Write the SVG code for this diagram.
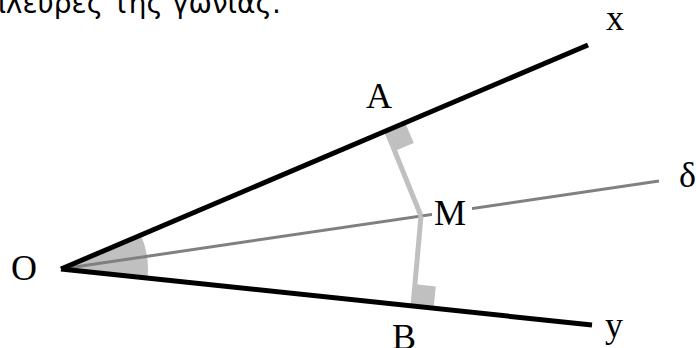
<svg xmlns="http://www.w3.org/2000/svg" width="697" height="348" viewBox="0 0 697 348">
<style>
.lbl{font-family:"Liberation Serif","Times New Roman",serif;font-size:36px;fill:#000}
.cap{font-family:"DejaVu Sans","Noto Sans",sans-serif;font-size:28px;fill:#000}
.side{stroke:#000;stroke-width:5;fill:none}
.perp{stroke:#c0c0c0;stroke-width:5;fill:none}
.bis{stroke:#808080;stroke-width:3;fill:none}
</style>
<rect width="697" height="348" fill="#fff"/>
<text class="cap" x="-11" y="13">πλευρές της γωνίας.</text>
<g id="angle">
<path d="M61,269 L141,235 A87,87 0 0 1 147.5,278.1 Z" fill="#c0c0c0"/>
</g>
<g id="marks">
<polygon points="385,131.3 405.2,122.7 413.8,142.9 393.6,151.6" fill="#c0c0c0"/>
<polygon points="411.6,306 433.5,308.3 435.8,286.4 413.9,284.1" fill="#c0c0c0"/>
</g>
<g id="connectors">
<line class="bis" x1="61" y1="269" x2="659" y2="181"/>
<line class="perp" x1="387" y1="132" x2="421" y2="216"/>
<line class="perp" x1="421" y1="216" x2="413" y2="306"/>
<line class="side" x1="61" y1="269" x2="588" y2="45"/>
<line class="side" x1="61" y1="269" x2="592" y2="325"/>
</g>
<g id="O"><text class="lbl" x="11" y="280">O</text></g>
<g id="A"><text class="lbl" x="366" y="108">A</text></g>
<g id="M"><rect x="432" y="196" width="40" height="32" fill="#fff"/><text class="lbl" x="434" y="225">M</text></g>
<g id="B"><text class="lbl" x="392" y="349">B</text></g>
<g id="x"><text class="lbl" x="606" y="30">x</text></g>
<g id="y"><text class="lbl" x="605" y="337">y</text></g>
<g id="delta"><text class="lbl" x="679" y="187">δ</text></g>
</svg>
